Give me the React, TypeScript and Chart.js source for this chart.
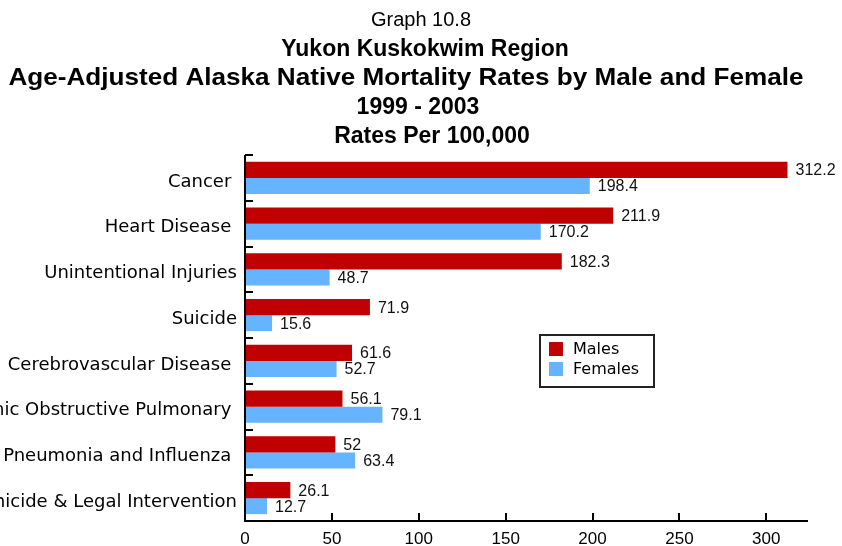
import React, { useEffect, useRef } from 'react';
import { Chart, registerables } from 'chart.js';

Chart.register(...registerables);

const categories = [
  'Cancer ',
  'Heart Disease ',
  'Unintentional Injuries',
  'Suicide',
  'Cerebrovascular Disease ',
  'Chronic Obstructive Pulmonary ',
  'Pneumonia and Influenza ',
  'Homicide & Legal Intervention',
];
const males = [312.2, 211.9, 182.3, 71.9, 61.6, 56.1, 52, 26.1];
const females = [198.4, 170.2, 48.7, 15.6, 52.7, 79.1, 63.4, 12.7];
const xTicks = [0, 50, 100, 150, 200, 250, 300];
const xMax = 324;
const seriesNames = ['Males', 'Females'];
const seriesColors = ['#C00000', '#66B3FF'];
const titleLines = [
  'Graph 10.8',
  'Yukon Kuskokwim Region',
  'Age-Adjusted Alaska Native Mortality Rates by Male and Female',
  '1999 - 2003',
  'Rates Per 100,000',
];

const decorPlugin = {
  id: 'decor',
  afterDraw(chart: any) {
    const { ctx, chartArea, scales } = chart;
    const xs = scales.x;
    const ys = scales.y;
    ctx.save();

    // Titles
    ctx.fillStyle = '#000';
    ctx.textAlign = 'center';
    ctx.textBaseline = 'alphabetic';
    const titleSpecs = [
      { font: '20px "Liberation Sans", Arial, sans-serif', x: 421, y: 26, w: 0 },
      { font: 'bold 23px "Liberation Sans", Arial, sans-serif', x: 425, y: 56, w: 0 },
      { font: 'bold 24px "Liberation Sans", Arial, sans-serif', x: 406, y: 85, w: 795 },
      { font: 'bold 23px "Liberation Sans", Arial, sans-serif', x: 418, y: 114, w: 0 },
      { font: 'bold 23px "Liberation Sans", Arial, sans-serif', x: 432, y: 143, w: 0 },
    ];
    titleLines.forEach((t, i) => {
      const s = titleSpecs[i];
      ctx.font = s.font;
      const mw = ctx.measureText(t).width;
      const sx = s.w ? s.w / mw : 1;
      ctx.save();
      ctx.translate(s.x, s.y);
      ctx.scale(sx, 1);
      ctx.fillText(t, 0, 0);
      ctx.restore();
    });

    // Axes
    ctx.strokeStyle = '#000';
    ctx.lineWidth = 2;
    ctx.beginPath();
    ctx.moveTo(chartArea.left, chartArea.top);
    ctx.lineTo(chartArea.left, chartArea.bottom);
    ctx.lineTo(chartArea.right, chartArea.bottom);
    ctx.stroke();

    // y ticks (inward) at category boundaries
    ctx.beginPath();
    for (let i = 0; i < categories.length; i++) {
      const yy = Math.round(ys.getPixelForValue(i - 0.5));
      ctx.moveTo(chartArea.left, yy);
      ctx.lineTo(chartArea.left + 8, yy);
    }
    ctx.stroke();

    // x ticks (inward)
    ctx.beginPath();
    xTicks.forEach((v) => {
      if (v === 0) return;
      const xx = Math.round(xs.getPixelForValue(v));
      ctx.moveTo(xx, chartArea.bottom);
      ctx.lineTo(xx, chartArea.bottom - 8);
    });
    ctx.stroke();

    // value labels
    ctx.font = '16px "Liberation Sans", Arial, sans-serif';
    ctx.textAlign = 'left';
    ctx.textBaseline = 'middle';
    ctx.fillStyle = '#111';
    chart.data.datasets.forEach((ds: any, di: number) => {
      const meta = chart.getDatasetMeta(di);
      meta.data.forEach((el: any, i: number) => {
        ctx.fillText(String(ds.data[i]), el.x + 8, el.y + 1);
      });
    });

    // legend
    const lx = 540, ly = 335, lw = 114, lh = 52;
    ctx.lineWidth = 2;
    ctx.strokeStyle = '#222';
    ctx.fillStyle = '#fff';
    ctx.fillRect(lx, ly, lw, lh);
    ctx.strokeRect(lx, ly, lw, lh);
    ctx.font = '16px "DejaVu Sans", sans-serif';
    seriesNames.forEach((name, i) => {
      ctx.fillStyle = seriesColors[i];
      ctx.fillRect(lx + 9, ly + 7 + i * 20, 14, 14);
      ctx.fillStyle = '#000';
      ctx.fillText(name, lx + 33, ly + 15 + i * 20);
    });

    ctx.restore();
  },
};

export default function App() {
  const ref = useRef<HTMLCanvasElement | null>(null);
  useEffect(() => {
    if (!ref.current) return;
    const chart = new Chart(ref.current, {
      type: 'bar',
      data: {
        labels: categories,
        datasets: [
          {
            label: seriesNames[0],
            data: males,
            backgroundColor: seriesColors[0],
            borderWidth: 0,
            categoryPercentage: 0.7,
            barPercentage: 1,
          },
          {
            label: seriesNames[1],
            data: females,
            backgroundColor: seriesColors[1],
            borderWidth: 0,
            categoryPercentage: 0.7,
            barPercentage: 1,
          },
        ],
      },
      options: {
        indexAxis: 'y',
        responsive: false,
        animation: false,
        layout: { padding: { top: 155, right: 34, bottom: 0, left: 0 } },
        plugins: {
          legend: { display: false },
          title: { display: false },
          tooltip: { enabled: false },
        },
        scales: {
          x: {
            type: 'linear',
            min: 0,
            max: xMax,
            grid: { display: false, drawTicks: false },
            border: { display: false },
            afterBuildTicks: (scale: any) => {
              scale.ticks = xTicks.map((v) => ({ value: v }));
            },
            afterFit: (scale: any) => {
              scale.height = 25;
            },
            ticks: {
              autoSkip: false,
              maxRotation: 0,
              padding: 8,
              color: '#000',
              font: { family: '"Liberation Sans", Arial, sans-serif', size: 17 },
            },
          },
          y: {
            type: 'category',
            grid: { display: false, drawTicks: false, offset: true },
            border: { display: false },
            afterFit: (scale: any) => {
              scale.width = 245;
            },
            ticks: {
              autoSkip: false,
              padding: 8,
              labelOffset: 4,
              color: '#000',
              font: { family: '"DejaVu Sans", sans-serif', size: 18 },
            },
          },
        },
      },
      plugins: [decorPlugin],
    });
    return () => chart.destroy();
  }, []);
  return (
    <div style={{ position: 'absolute', left: 0, top: 0, width: 842, height: 546 }}>
      <canvas ref={ref} width={842} height={546} />
    </div>
  );
}
